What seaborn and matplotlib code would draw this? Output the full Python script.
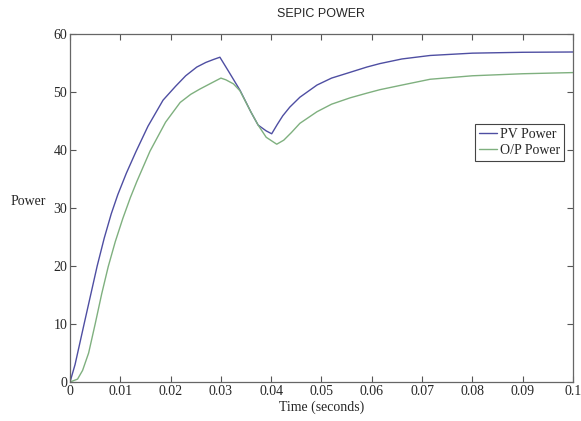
import numpy as np
import pandas as pd
import seaborn as sns
import matplotlib.pyplot as plt

# PV power
t_pv = [0, 0.001, 0.0028, 0.0054, 0.0068, 0.0082, 0.0095, 0.0112, 0.0131, 0.0155, 0.0185, 0.021,
        0.023, 0.0252, 0.027, 0.0285, 0.0298,
        0.0315, 0.0338, 0.036, 0.0374, 0.039, 0.0401, 0.0412, 0.0423, 0.0437, 0.0457, 0.0491,
        0.052, 0.0557, 0.059, 0.0616, 0.066, 0.0716, 0.08, 0.09, 0.1]
p_pv = [0, 3, 10, 20, 24.8, 29.0, 32.3, 36.0, 39.7, 44.1, 48.6, 51.0,
        52.8, 54.3, 55.1, 55.6, 56.0,
        53.6, 50.3, 46.5, 44.3, 43.3, 42.8, 44.4, 45.9, 47.4, 49.1, 51.2,
        52.4, 53.4, 54.3, 54.9, 55.7, 56.3, 56.7, 56.85, 56.9]

# O/P power
t_op = [0, 0.0015, 0.0025, 0.0037, 0.005, 0.0063, 0.0076, 0.009, 0.0105, 0.012, 0.0133, 0.0159,
        0.019, 0.0219, 0.024, 0.0258, 0.028, 0.03,
        0.031, 0.0325, 0.0338, 0.036, 0.0374, 0.039, 0.0411, 0.0425, 0.044, 0.0457, 0.0491,
        0.052, 0.0557, 0.059, 0.0616, 0.066, 0.0716, 0.08, 0.09, 0.1]
p_op = [0, 0.5, 2, 5, 10, 15.2, 19.9, 24.2, 28.2, 31.8, 34.6, 39.8,
        44.8, 48.2, 49.6, 50.5, 51.5, 52.4,
        52.1, 51.4, 50.2, 46.5, 44.3, 42.2, 41.0, 41.7, 43.0, 44.6, 46.6,
        47.9, 49.0, 49.8, 50.4, 51.2, 52.2, 52.8, 53.15, 53.35]

series = ['PV Power', 'O/P Power']
colors = ['#4e4ea2', '#7fb07f']

df = pd.concat([
    pd.DataFrame({'t': t_pv, 'P': p_pv, 'series': series[0]}),
    pd.DataFrame({'t': t_op, 'P': p_op, 'series': series[1]}),
])

sns.set_style('ticks')
plt.rcParams['font.family'] = ['Liberation Serif', 'DejaVu Serif']

fig = plt.figure(figsize=(5.81, 4.21), dpi=100)
ax = fig.add_axes([0.1205, 0.0926, 0.8657, 0.8266])

sns.lineplot(data=df, x='t', y='P', hue='series', palette=colors, estimator=None,
             sort=False, linewidth=1.0, ax=ax)

ax.set_xlim(0, 0.1)
ax.set_ylim(0, 60)
ax.set_xticks(np.arange(0, 0.1001, 0.01))
ax.set_xticklabels(['0', '0.01', '0.02', '0.03', '0.04', '0.05', '0.06', '0.07', '0.08', '0.09', '0.1'])
ax.set_yticks(range(0, 61, 10))
ax.tick_params(direction='in', length=4, width=0.8, color='#555555', labelsize=10,
               top=True, right=True, pad=2)
for s in ax.spines.values():
    s.set_visible(True)
    s.set_color('#666666')
    s.set_linewidth(0.9)

ax.set_xlabel('Time (seconds)', fontsize=10, labelpad=2)
ax.set_ylabel('Power', fontsize=10, rotation=0, labelpad=18)
ax.set_title('SEPIC POWER', fontsize=9, family='Liberation Sans', pad=12)

leg = ax.legend(loc='upper right', bbox_to_anchor=(0.982, 0.741), borderaxespad=0,
                fancybox=False, fontsize=10, handlelength=1.3, handletextpad=0.2,
                borderpad=0.3, labelspacing=0.2, framealpha=1)
leg.get_frame().set_edgecolor('#444444')
leg.get_frame().set_linewidth(0.8)

fig.savefig('out.png', dpi=100)
